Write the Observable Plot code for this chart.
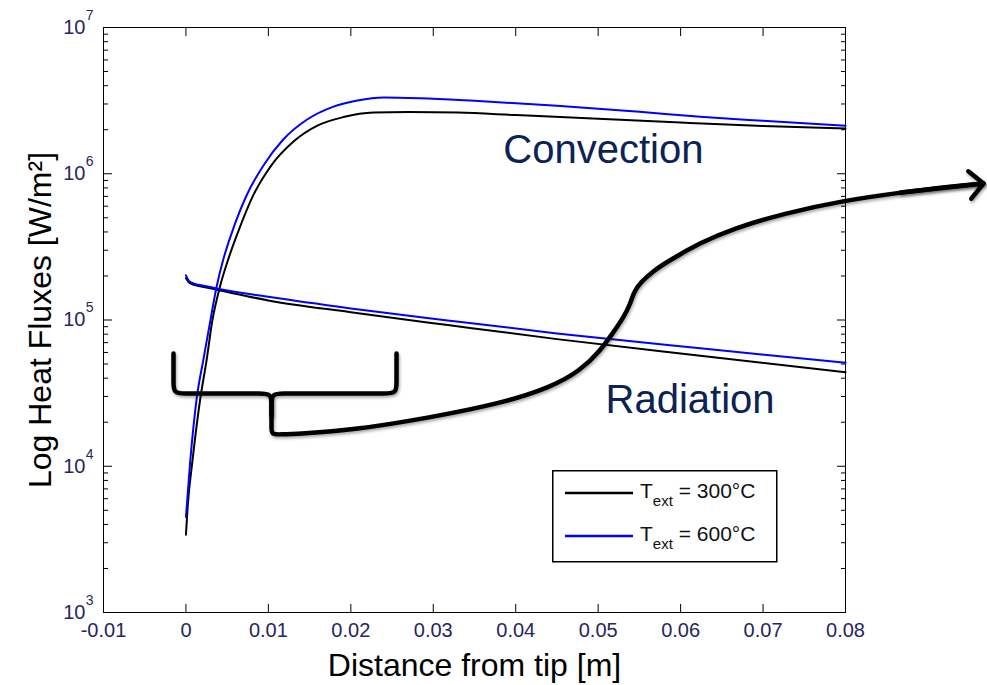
<!DOCTYPE html>
<html>
<head>
<meta charset="utf-8">
<script src="https://cdn.jsdelivr.net/npm/d3@7"></script>
<script src="https://cdn.jsdelivr.net/npm/@observablehq/plot@0.6"></script>
<style>
  html, body { margin: 0; padding: 0; background: #fff; }
  #chart { position: relative; width: 987px; height: 685px; font-family: "Liberation Sans", Arial, sans-serif; }
  #chart > svg { display: block; }
  #legend { position: absolute; left: 552px; top: 470px; }
</style>
</head>
<body>
<div id="chart"></div>
<script>
// Heat flux along the probe: convection and radiation for two gas temperatures.
const distConv300 = [0, 0.0002, 0.0008, 0.0017, 0.0025, 0.0032, 0.0041, 0.00516, 0.00625, 0.0082, 0.01025, 0.01305, 0.016, 0.0191, 0.02275, 0.027, 0.033, 0.04, 0.05, 0.06, 0.07, 0.08];
const fluxConv300 = [3.4e3, 5.2e3, 1.1e4, 2.8e4, 5.3e4, 9.9e4, 1.67e5, 2.63e5, 3.9e5, 7.2e5, 1.12e6, 1.66e6, 2.14e6, 2.44e6, 2.62e6, 2.64e6, 2.62e6, 2.52e6, 2.38e6, 2.24e6, 2.12e6, 2.04e6];

const distConv600 = [0, 0.0005, 0.0013, 0.0021, 0.0028, 0.0037, 0.00456, 0.00553, 0.00735, 0.0094, 0.0118, 0.0147, 0.0179, 0.0208, 0.024, 0.0284, 0.035, 0.045, 0.055, 0.0624, 0.07, 0.08];
const fluxConv600 = [4.5e3, 1.05e4, 2.9e4, 5.3e4, 8.8e4, 1.67e5, 2.63e5, 3.9e5, 7.1e5, 1.14e6, 1.715e6, 2.35e6, 2.88e6, 3.17e6, 3.32e6, 3.28e6, 3.15e6, 2.92e6, 2.65e6, 2.45e6, 2.3e6, 2.13e6];

const distRad = [0, 0.0004, 0.001, 0.002, 0.004, 0.01, 0.02, 0.032, 0.045, 0.0624, 0.08];
const fluxRad300 = [1.93e5, 1.8e5, 1.74e5, 1.69e5, 1.6e5, 1.36e5, 1.13e5, 9.2e4, 7.4e4, 5.7e4, 4.4e4];
const fluxRad600 = [2.02e5, 1.84e5, 1.77e5, 1.72e5, 1.63e5, 1.44e5, 1.2e5, 9.9e4, 8.1e4, 6.4e4, 5.1e4];

// Axis ticks and their labels
const xTicks = [-0.01, 0, 0.01, 0.02, 0.03, 0.04, 0.05, 0.06, 0.07, 0.08];
const xTickLabels = ["-0.01", "0", "0.01", "0.02", "0.03", "0.04", "0.05", "0.06", "0.07", "0.08"];
const yExponents = [3, 4, 5, 6, 7];
const yDecades = yExponents.map(e => 10 ** e);
const yMinor = yDecades.slice(0, -1).flatMap(d => d3.range(2, 10).map(k => k * d));

// Series names and colours
const seriesTemps = ["300°C", "600°C"];
const seriesColors = ["#000000", "#0000ff"];

// Callout: left half of the brace, its stem and the leader out to the arrowhead
const calloutX = [-0.001509, -0.001509, -0.001509, -0.001509, -0.000053, 0.001766, 0.006618, 0.008923, 0.010378, 0.010378, 0.010378, 0.010378, 0.010378, 0.01147, 0.013896, 0.019961, 0.029665, 0.038155, 0.04422, 0.047859, 0.050285, 0.051739, 0.053074, 0.053923, 0.054288, 0.055137, 0.056592, 0.058412, 0.062414, 0.066418, 0.072482, 0.07976, 0.086674, 0.092738, 0.096741];
const calloutQ = [5.9e4, 4.515e4, 3.8e4, 3.144e4, 3.144e4, 3.144e4, 3.144e4, 3.144e4, 3.144e4, 2.6e4, 2.224e4, 1.812e4, 1.649e4, 1.649e4, 1.675e4, 1.756e4, 2.154e4, 2.685e4, 3.455e4, 4.515e4, 6.19e4, 8.09e4, 1.04e5, 1.297e5, 1.542e5, 1.805e5, 2.146e5, 2.512e5, 3.388e5, 4.225e5, 5.35e5, 6.56e5, 7.44e5, 8.18e5, 8.58e5];
// Right half of the brace
const braceRightX = [0.025541, 0.025541, 0.025541, 0.025541, 0.024085, 0.021174, 0.013896, 0.011834, 0.010378, 0.010378, 0.010378];
const braceRightQ = [5.9e4, 4.515e4, 3.8e4, 3.144e4, 3.144e4, 3.144e4, 3.144e4, 3.144e4, 3.144e4, 2.6e4, 2.224e4];

// In-plot annotations
const annotations = [
  {x: 0.0385, q: 1.46e6, text: "Convection"},
  {x: 0.0509, q: 2.85e4, text: "Radiation"}
];
const xLabel = "Distance from tip [m]";
const yLabel = "Log Heat Fluxes [W/m²]";

const table = (xs, qs, extra = {}) => xs.map((x, i) => ({x, q: qs[i], ...extra}));
const conv300 = table(distConv300, fluxConv300);
const conv600 = table(distConv600, fluxConv600);
const rad300 = table(distRad, fluxRad300);
const rad600 = table(distRad, fluxRad600);
const callout = table(calloutX, calloutQ);
const braceRight = table(braceRightX, braceRightQ);
const arrowTip = [{from: callout[callout.length - 3], to: callout[callout.length - 1]}];

const tickInk = "#262660";
const calloutStyle = {stroke: "#000", strokeWidth: 4.5, strokeLinecap: "round", strokeLinejoin: "round", ariaDescription: "callout"};
const noText = () => "";

const svg = Plot.plot({
  width: 987,
  height: 685,
  marginLeft: 103,
  marginRight: 142,
  marginTop: 27,
  marginBottom: 73,
  style: {fontFamily: '"Liberation Sans", Arial, sans-serif', background: "#fff", overflow: "visible"},
  x: {domain: [-0.01, 0.08]},
  y: {type: "log", domain: [1e3, 1e7]},
  marks: [
    Plot.frame({stroke: "#000", strokeWidth: 1}),
    // inward ticks on all four sides
    Plot.axisX({anchor: "bottom", ticks: xTicks, tickSize: -8, tickFormat: noText, label: null}),
    Plot.axisX({anchor: "top", ticks: xTicks, tickSize: -8, tickFormat: noText, label: null}),
    Plot.axisY({anchor: "left", ticks: yDecades, tickSize: -9, tickFormat: noText, label: null}),
    Plot.axisY({anchor: "left", ticks: yMinor, tickSize: -5, tickFormat: noText, label: null}),
    Plot.axisY({anchor: "right", ticks: yDecades, tickSize: -9, tickFormat: noText, label: null}),
    Plot.axisY({anchor: "right", ticks: yMinor, tickSize: -5, tickFormat: noText, label: null}),
    // tick labels
    Plot.text(xTicks, {x: d => d, frameAnchor: "bottom", dy: 18, lineAnchor: "middle", textAnchor: "middle", text: d => xTickLabels[xTicks.indexOf(d)], fontSize: 20, fill: tickInk}),
    Plot.text(yDecades, {y: d => d, frameAnchor: "left", dx: -18, lineAnchor: "middle", textAnchor: "end", text: () => "10", fontSize: 20, fill: tickInk}),
    Plot.text(yDecades, {y: d => d, frameAnchor: "left", dx: -10, dy: -12, lineAnchor: "middle", textAnchor: "end", text: (d, i) => String(yExponents[i]), fontSize: 14, fill: tickInk}),
    // axis titles
    Plot.text([xLabel], {frameAnchor: "bottom", dy: 53, lineAnchor: "middle", textAnchor: "middle", text: d => d, fontSize: 32, fill: "#000"}),
    Plot.text([yLabel], {frameAnchor: "left", dx: -63, rotate: -90, lineAnchor: "middle", textAnchor: "middle", text: d => d, fontSize: 32, fill: "#000"}),
    // flux curves
    Plot.line(rad300, {x: "x", y: "q", stroke: seriesColors[0], strokeWidth: 2, curve: "monotone-x"}),
    Plot.line(conv300, {x: "x", y: "q", stroke: seriesColors[0], strokeWidth: 2, curve: "monotone-x"}),
    Plot.line(rad600, {x: "x", y: "q", stroke: seriesColors[1], strokeWidth: 2, curve: "monotone-x"}),
    Plot.line(conv600, {x: "x", y: "q", stroke: seriesColors[1], strokeWidth: 2, curve: "monotone-x"}),
    // brace and leader arrow
    Plot.line(braceRight, {x: "x", y: "q", curve: "basis", ...calloutStyle}),
    Plot.line(callout, {x: "x", y: "q", curve: "basis", ...calloutStyle}),
    Plot.arrow(arrowTip, {x1: d => d.from.x, y1: d => d.from.q, x2: d => d.to.x, y2: d => d.to.q, headLength: 6.5, headAngle: 90, ...calloutStyle}),
    // labels
    Plot.text(annotations, {x: "x", y: "q", text: "text", textAnchor: "start", lineAnchor: "middle", fontSize: 40, fill: "#0c2254"})
  ]
});

d3.select(svg).selectAll('[aria-description="callout"]')
  .style("filter", "drop-shadow(1px 2px 1.5px rgba(0,0,0,0.35))");

const chart = document.getElementById("chart");
chart.appendChild(svg);

// Legend box inside the axes
const legend = d3.create("svg")
  .attr("id", "legend")
  .attr("width", 227)
  .attr("height", 94)
  .style("font-family", '"Liberation Sans", Arial, sans-serif');
legend.append("rect")
  .attr("x", 0.75).attr("y", 0.75).attr("width", 224).attr("height", 91)
  .attr("fill", "#fff").attr("stroke", "#000").attr("stroke-width", 1.5);
seriesTemps.forEach((t, i) => {
  const cy = 23 + 43 * i;
  legend.append("line")
    .attr("x1", 13).attr("x2", 81).attr("y1", cy).attr("y2", cy)
    .attr("stroke", seriesColors[i]).attr("stroke-width", 2.5);
  const label = legend.append("text")
    .attr("x", 88).attr("y", cy + 5)
    .attr("font-size", 21).attr("fill", "#111");
  label.append("tspan").text("T");
  label.append("tspan").attr("font-size", 15).attr("dy", 8).text("ext");
  label.append("tspan").attr("dy", -8).text(" = " + t);
});
chart.appendChild(legend.node());
</script>
</body>
</html>
